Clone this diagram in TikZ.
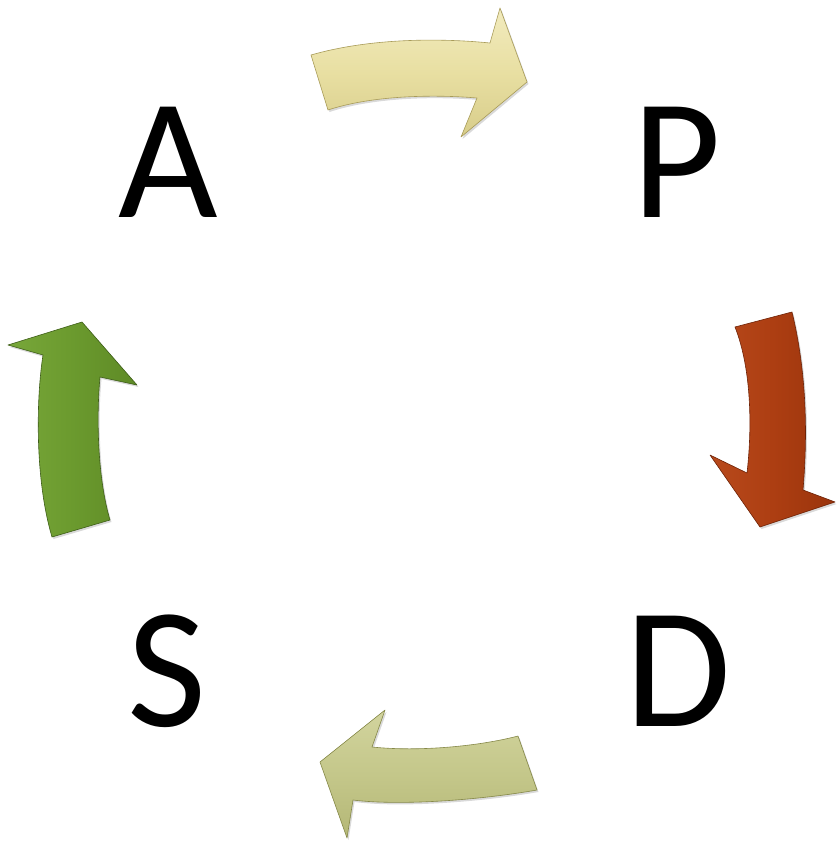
\documentclass[tikz,border=0pt]{standalone}
\usepackage{fontspec}
\setmainfont{Carlito}
\usetikzlibrary{shadows}
\definecolor{ybase}{HTML}{E8DFA2}
\definecolor{ylight}{HTML}{F2EBBE}
\definecolor{ydark}{HTML}{D8CD8A}
\definecolor{yline}{HTML}{A89B58}
\definecolor{rbase}{HTML}{AD3E12}
\definecolor{rlight}{HTML}{B84A1C}
\definecolor{rdark}{HTML}{9A340C}
\definecolor{rline}{HTML}{6E2206}
\definecolor{obase}{HTML}{C4C78A}
\definecolor{olight}{HTML}{D2D49E}
\definecolor{odark}{HTML}{B4B776}
\definecolor{oline}{HTML}{858848}
\definecolor{gbase}{HTML}{6B9A2E}
\definecolor{glight}{HTML}{78A73A}
\definecolor{gdark}{HTML}{5E8A26}
\definecolor{gline}{HTML}{3E5E18}
\tikzset{
  letter/.style={inner sep=0pt, anchor=base, font=\fontsize{172}{172}\selectfont},
  arrowshape/.style={line width=0.6pt, line join=round, drop shadow={opacity=0.3, shadow xshift=1.5pt, shadow yshift=-2pt}},
}
\begin{document}
\begin{tikzpicture}[x=1pt,y=-1pt]
\useasboundingbox (0,0) rectangle (836,841);
% letters
\node[letter] (A) at (168,217) {A};
\node[letter] (P) at (677,217) {P};
\node[letter] (S) at (167,726) {S};
\node[letter] (D) at (678,726) {D};
% top arrow A -> P
\path[arrowshape, draw=yline, top color=ylight, bottom color=ydark, middle color=ybase]
  (311,55) .. controls (370,38) and (440,38) .. (490,43) -- (500,8) -- (527,82) -- (461,137) -- (477,98)
  .. controls (430,94) and (370,96) .. (328,110) -- cycle;
% right arrow P -> D
\path[arrowshape, draw=rline, left color=rlight, right color=rdark, middle color=rbase]
  (735,327) -- (792,312) .. controls (806,370) and (808,430) .. (803,490) -- (835,502) -- (760,527)
  -- (710,455) -- (747,473) .. controls (752,430) and (752,370) .. (735,327) -- cycle;
% bottom arrow D -> S
\path[arrowshape, draw=oline, top color=olight, bottom color=odark, middle color=obase]
  (518,736) -- (537,790) .. controls (480,800) and (400,806) .. (353,800) -- (347,838) -- (320,762)
  -- (385,710) -- (372,747) .. controls (420,752) and (480,746) .. (518,736) -- cycle;
% left arrow S -> A
\path[arrowshape, draw=gline, left color=glight, right color=gdark, middle color=gbase]
  (52,537) .. controls (35,480) and (36,400) .. (43,355) -- (8,345) -- (82,322) -- (137,385)
  -- (100,377) .. controls (96,420) and (98,480) .. (110,520) -- cycle;
\end{tikzpicture}
\end{document}
